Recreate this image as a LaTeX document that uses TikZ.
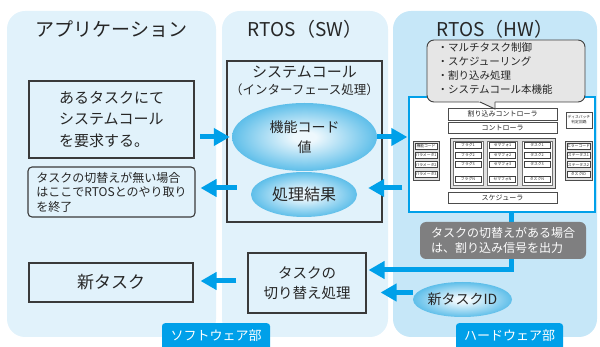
\documentclass[tikz,border=0pt]{standalone}
\usepackage{fontspec}
\setmainfont{Noto Sans CJK JP}
\usepackage{tikz}
\usetikzlibrary{arrows.meta,positioning,shapes.geometric,calc}
\definecolor{rtoscyan}{HTML}{00A0E9}
\definecolor{rtoslight}{HTML}{E1F2FB}
\definecolor{rtosmid}{HTML}{C6E7F8}
\definecolor{rtosgray}{HTML}{7F7F80}
\definecolor{rtosbubble}{HTML}{E6E6E6}
\definecolor{rtosline}{HTML}{3A3A3A}
\definecolor{glowin}{HTML}{EEF8FD}
\definecolor{glowout}{HTML}{1AA3E0}
\pgfdeclareradialshading{rtosglow}{\pgfpoint{0bp}{0bp}}{color(0bp)=(glowin); color(4bp)=(glowin); color(35bp)=(glowout); color(50bp)=(glowout)}
\tikzset{
  pane/.style={rounded corners=18pt, fill=rtoslight, draw=none},
  headline/.style={font=\fontsize{19}{22}\selectfont, text=black!85},
  box/.style={draw=rtosline, line width=1.1pt, align=left, text=black!85},
  ellip/.style={ellipse, shade, shading=rtosglow, align=center, inner sep=0pt, text=black!85},
  arrow/.style={-{Triangle[length=16pt,width=17pt]}, line width=5pt, draw=rtoscyan},
  hwpart/.style={draw=black!70, line width=0.8pt, fill=white, inner sep=0pt, text=black!85, font=\fontsize{7}{8}\selectfont},
  hwcell/.style={draw=black!75, line width=0.7pt, fill=white, inner sep=0pt, minimum width=26pt, minimum height=6pt, text=black!85, font=\fontsize{3.8}{4}\selectfont},
  hwframe/.style={draw=black!70, line width=0.8pt, fill=black!12},
  tag/.style={fill=rtoscyan, text=white, rounded corners=3pt, font=\fontsize{13}{15}\selectfont, inner xsep=0pt, inner ysep=6pt, text height=11pt, text depth=15pt}
}
\begin{document}
\begin{tikzpicture}[x=1pt, y=-1pt]
  \useasboundingbox (0,0) rectangle (600,347);
  % three panes
  \node[pane, minimum width=209pt, minimum height=326pt] (apppane) at (111.5,174) {};
  \node[pane, minimum width=166pt, minimum height=326pt] (swpane) at (305,174) {};
  \node[pane, fill=rtosmid, minimum width=204pt, minimum height=326pt] (hwpane) at (495,174) {};
  \node[headline] (apptitle) at (111.5,29) {アプリケーション};
  \node[headline] (swtitle) at (305,29) {RTOS（SW）};
  \node[headline] (hwtitle) at (495,29) {RTOS（HW）};

  % application side
  \node[box, minimum width=165pt, minimum height=77pt, font=\fontsize{15}{21.5}\selectfont] (request) at (111.5,119.5) {あるタスクにて\\システムコール\\を要求する。};
  \node[box, rounded corners=4pt, minimum width=167pt, minimum height=50pt, font=\fontsize{12}{14.5}\selectfont] (noswitch) at (111.5,192) {タスクの切替えが無い場合\\はここでRTOSとのやり取り\\を終了};
  \node[box, align=center, minimum width=164pt, minimum height=39pt, font=\fontsize{17}{20}\selectfont] (newtask) at (111,282.5) {新タスク};

  % RTOS software
  \node[box, minimum width=155pt, minimum height=161pt] (syscall) at (304.5,141.5) {};
  \node[align=center, text=black!85, font=\fontsize{15}{17}\selectfont] (sctitle) at (304.5,80.5) {システムコール\\{\fontsize{12.5}{17}\selectfont（インターフェース処理）}};
  \node[ellip, minimum width=145pt, minimum height=68pt, font=\fontsize{14}{20}\selectfont] (funccode) at (304.5,137) {機能コード\\値};
  \node[ellip, minimum width=106pt, minimum height=45pt, font=\fontsize{16}{18}\selectfont] (result) at (304,194.5) {処理結果};
  \node[box, align=center, minimum width=118pt, minimum height=60pt, font=\fontsize{14.5}{20}\selectfont] (switchproc) at (307,283) {タスクの\\切り替え処理};

  % RTOS hardware
  \node[draw=rtoscyan, line width=1.3pt, fill=white, minimum width=186pt, minimum height=115pt] (hwcore) at (502,154.5) {};
  \node[hwpart, minimum width=109pt, minimum height=12pt] (irqctrl) at (502.5,114) {割り込みコントローラ};
  \node[hwpart, minimum width=109pt, minimum height=11pt] (ctrl) at (502.5,127.5) {コントローラ};
  \node[hwpart, align=center, font=\fontsize{3.8}{5}\selectfont, minimum width=26pt, minimum height=16pt] (dispatch) at (579,120) {ディスパッチ\\判定回路};
  \node[hwframe, minimum width=105pt, minimum height=50pt] (objframe) at (502.5,163) {};
  \foreach \name/\cx/\word in {flag/468/フラグ, sema/502.5/セマフォ, task/537/タスク} {
    \node[draw=black!55, line width=0.6pt, fill=white, minimum width=30pt, minimum height=44pt] (\name col) at (\cx,163) {};
    \foreach \k/\cy in {1/145.5, 2/155, 3/164.5, N/179.5}
      \node[hwcell] (\name\k) at (\cx,\cy) {\word\k};
  }
  \node[hwframe, minimum width=26pt, minimum height=39pt] (parframe) at (426,160.5) {};
  \foreach \k/\cy/\word in {1/146/機能コード, 2/155.3/パラメータ1, 3/164.6/パラメータ2, 4/174/パラメータ3}
    \node[hwcell, minimum width=22pt] (par\k) at (426,\cy) {\word};
  \node[hwframe, minimum width=27pt, minimum height=39pt] (retframe) at (578.5,160.5) {};
  \foreach \k/\cy/\word in {1/146/エラーコード, 2/155.3/ステータス1, 3/164.6/ステータス2, 4/174/タスクID}
    \node[hwcell, minimum width=23pt] (ret\k) at (578.5,\cy) {\word};
  \node[hwpart, minimum width=109pt, minimum height=11pt] (sched) at (502.5,197.5) {スケジューラ};

  % speech bubble
  \node[draw=black!75, line width=0.9pt, fill=rtosbubble, rounded corners=7pt, minimum width=158pt, minimum height=62pt] (bubble) at (506,71) {};
  \fill[rtosbubble] (478.5,101.2) -- (495,101.2) -- (495,109) -- cycle;
  \draw[draw=black!75, line width=0.9pt] (480,102) -- (495,109) -- (495,102);
  \node[anchor=west, align=left, text=black!85, font=\fontsize{10.5}{13.7}\selectfont] (bubbletext) at (434,68.5) {・マルチタスク制御\\・スケジューリング\\・割り込み処理\\・システムコール本機能};

  % connectors
  \coordinate (resarrow) at ([yshift=6.5pt]result.east);
  \coordinate (resback) at ([yshift=6.5pt]result.west);
  \coordinate (irqout) at ([yshift=13pt]switchproc.east);
  \coordinate (newout) at ([yshift=2pt]switchproc.west);
  \draw[arrow, shorten <=5.5pt, shorten >=2pt] (request.east |- funccode.west) -- (funccode.west);
  \draw[arrow, shorten >=1pt] (funccode.east) -- (hwcore.west |- funccode.east);
  \draw[arrow, shorten <=6pt, shorten >=11pt] (hwcore.west |- resarrow) -- (resarrow);
  \draw[arrow, shorten <=14pt, shorten >=5pt] (resback) -- (noswitch.east |- resback);
  \draw[arrow, shorten >=2pt] ([xshift=9pt]hwcore.south) |- (irqout);

  \node[fill=rtosgray, rounded corners=6pt, text=white, align=left, font=\fontsize{12}{14.5}\selectfont, minimum width=166pt, minimum height=37pt] (switchnote) at (503,240.5) {タスクの切替えがある場合\\は、割り込み信号を出力};
  \node[ellip, minimum width=99pt, minimum height=35pt, font=\fontsize{14}{16}\selectfont] (newid) at (462.5,299.5) {新タスクID};
  \coordinate (idin) at ([yshift=7pt]newid.west);
  \draw[arrow, shorten >=14pt] (idin) -- (switchproc.east |- idin);
  \draw[arrow, shorten <=11pt, shorten >=7pt] (newout) -- (newtask.east |- newout);

  % part tags
  \node[tag, anchor=north, minimum width=108pt] (swtag) at (216,323) {ソフトウェア部};
  \node[tag, anchor=north, minimum width=107pt] (hwtag) at (509.5,323) {ハードウェア部};
\end{tikzpicture}
\end{document}
